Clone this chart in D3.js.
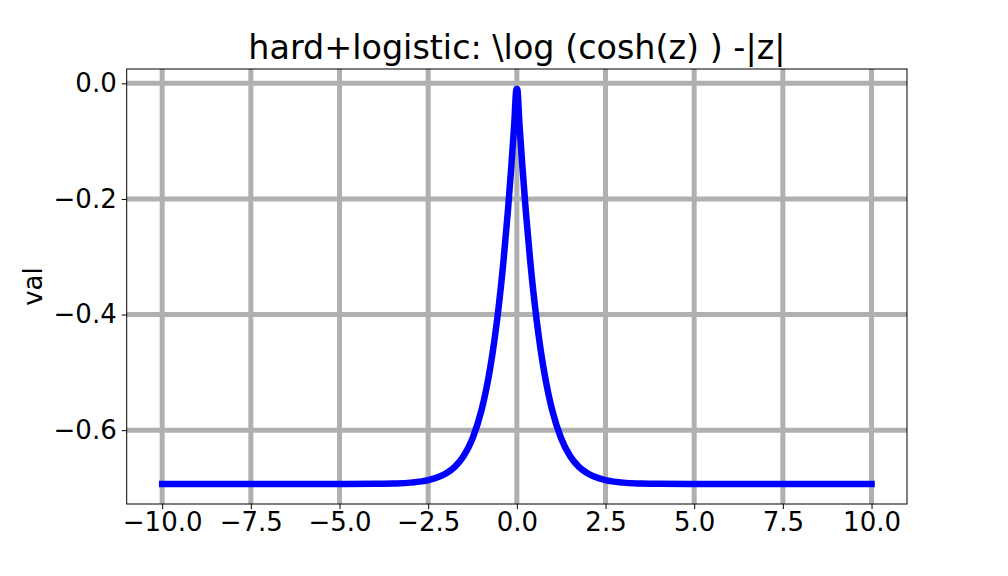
<!DOCTYPE html>
<html><head><meta charset="utf-8">
<script src="https://cdn.jsdelivr.net/npm/d3@7"></script>
<style>body{margin:0;background:#fff}svg{display:block;font-family:"DejaVu Sans",sans-serif}</style>
</head><body><svg id="c" width="1008" height="576"></svg>
<script>
const titleText = "hard+logistic: \\log (cosh(z) ) -|z|";
const yLabel = "val";
const zValues = [-10, -6, -4, -3.5, -3, -2.5, -2, -1.75, -1.5, -1.25, -1, -0.875, -0.75, -0.625, -0.5, -0.375, -0.25, -0.15, -0.075, -0.01,
                 0.01, 0.075, 0.15, 0.25, 0.375, 0.5, 0.625, 0.75, 0.875, 1, 1.25, 1.5, 1.75, 2, 2.5, 3, 3.5, 4, 6, 10];
const vals = [-0.6931, -0.6931, -0.6928, -0.6922, -0.6907, -0.6864, -0.6750, -0.6634, -0.6446, -0.6143, -0.5662, -0.5329, -0.4918, -0.4412, -0.3799, -0.3062, -0.2190, -0.1387, -0.0721, -0.0099,
              -0.0099, -0.0721, -0.1387, -0.2190, -0.3062, -0.3799, -0.4412, -0.4918, -0.5329, -0.5662, -0.6143, -0.6446, -0.6634, -0.6750, -0.6864, -0.6907, -0.6922, -0.6928, -0.6931, -0.6931];
const xTicks = [-10, -7.5, -5, -2.5, 0, 2.5, 5, 7.5, 10];
const yTicks = [0, -0.2, -0.4, -0.6];

const svg = d3.select("#c");
const L = 126.7, R = 907, T = 69, B = 504;
const x = d3.scaleLinear().domain([-11, 11]).range([L, R]);
const y = d3.scaleLinear().domain([-0.7277, 0.0248]).range([B, T]);
const fmt = d3.format(".1f");

// grid
const g = svg.append("g");
g.selectAll(".vg").data(xTicks).join("line")
  .attr("x1", d => x(d)).attr("x2", d => x(d)).attr("y1", T).attr("y2", B)
  .attr("stroke", "#b0b0b0").attr("stroke-width", 5);
g.selectAll(".hg").data(yTicks).join("line")
  .attr("y1", d => y(d)).attr("y2", d => y(d)).attr("x1", L).attr("x2", R)
  .attr("stroke", "#b0b0b0").attr("stroke-width", 5);

// line
const pts = zValues.map((z, i) => [z, vals[i]]);
svg.append("path").datum(pts)
  .attr("d", d3.line().x(d => x(d[0])).y(d => y(d[1])).curve(d3.curveMonotoneX))
  .attr("fill", "none").attr("stroke", "#0000ff").attr("stroke-width", 6.5)
  .attr("stroke-linejoin", "round").attr("stroke-linecap", "square");

// axes
const xa = svg.append("g").attr("transform", `translate(0,${B})`)
  .call(d3.axisBottom(x).tickValues(xTicks).tickFormat(fmt).tickSizeOuter(0).tickSize(5).tickPadding(4));
const ya = svg.append("g").attr("transform", `translate(${L},0)`)
  .call(d3.axisLeft(y).tickValues(yTicks).tickFormat(fmt).tickSizeOuter(0).tickSize(5).tickPadding(5));
[xa, ya].forEach(a => {
  a.select(".domain").remove();
  a.selectAll("text").attr("font-size", 26).attr("font-family", "DejaVu Sans").attr("fill", "#000");
  a.selectAll("line").attr("stroke", "#000").attr("stroke-width", 1);
});

// frame
svg.append("rect").attr("x", L).attr("y", T).attr("width", R - L).attr("height", B - T)
  .attr("fill", "none").attr("stroke", "#000").attr("stroke-width", 1);

// title
svg.append("text").attr("x", (L + R) / 2).attr("y", 59).attr("text-anchor", "middle")
  .attr("font-size", 33.4).attr("fill", "#000").text(titleText);
svg.append("text").attr("transform", `translate(42,${(T + B) / 2}) rotate(-90)`)
  .attr("text-anchor", "middle").attr("font-size", 26).attr("fill", "#000").text(yLabel);
</script></body></html>
